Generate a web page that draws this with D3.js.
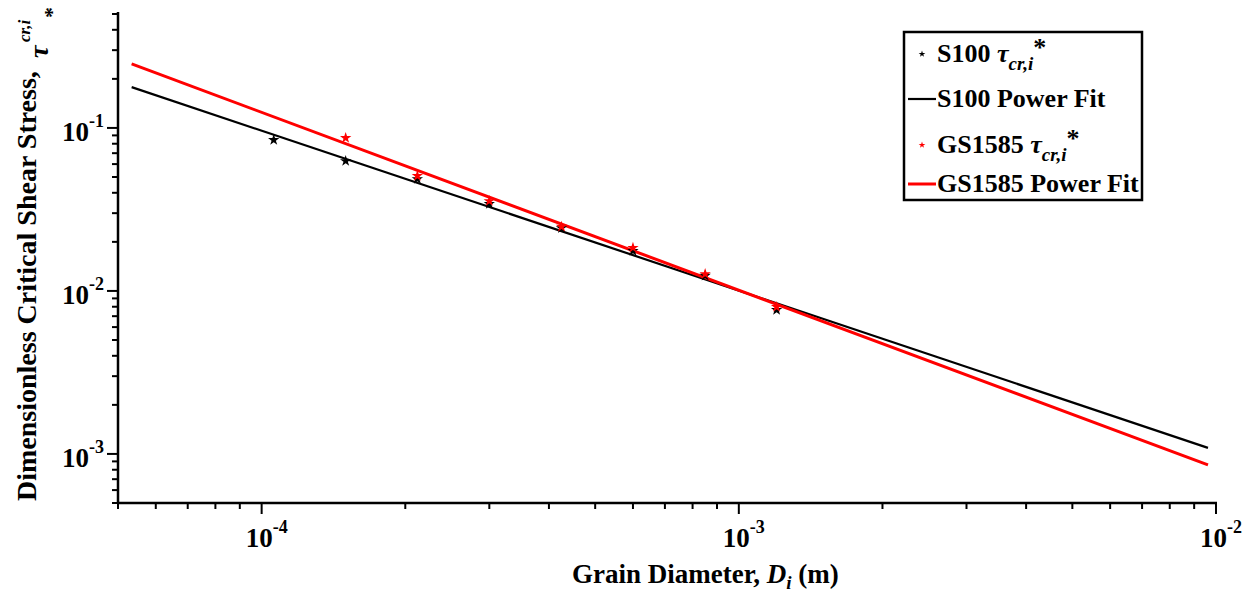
<!DOCTYPE html>
<html>
<head>
<meta charset="utf-8">
<script src="https://cdn.jsdelivr.net/npm/d3@7"></script>
<style>
  body { margin: 0; background: #fff; }
  svg { display: block; font-family: "Liberation Serif", "Times New Roman", serif; font-weight: bold; }
</style>
</head>
<body>
<div id="chart"></div>
<script>
// Grain diameters (m) of the size classes
const diameters = [1.06e-4, 1.5e-4, 2.12e-4, 3.0e-4, 4.25e-4, 6.0e-4, 8.5e-4, 1.2e-3];
// S100 measured tau*_cr,i
const s100Tau = [0.0844, 0.0627, 0.0486, 0.0342, 0.0243, 0.0176, 0.0124, 0.00765];
// GS1585 measured tau*_cr,i (no value for the finest class)
const gsDiameters = [1.5e-4, 2.12e-4, 3.0e-4, 4.25e-4, 6.0e-4, 8.5e-4, 1.2e-3];
const gsTau = [0.0868, 0.0508, 0.0356, 0.0248, 0.0184, 0.0127, 0.00798];
// Power-fit lines, drawn as end points
const fitD = [5.34e-5, 9.62e-3];
const s100Fit = [0.178, 1.09e-3];
const gsFit = [0.247, 8.56e-4];

const xTicks = [1e-4, 1e-3, 1e-2];
const yTicks = [1e-3, 1e-2, 1e-1];

const CONFIG = {
  width: 1247,
  height: 593,
  left: 118,
  right: 1216,
  top: 14,
  bottom: 503
};

const svg = d3.select('#chart').append('svg')
  .attr('width', CONFIG.width)
  .attr('height', CONFIG.height);

const x = d3.scaleLog().domain([5e-5, 1e-2]).range([CONFIG.left, CONFIG.right]);
const y = d3.scaleLog().domain([5e-4, 0.5]).range([CONFIG.bottom, CONFIG.top]);

// minor ticks at 2..9 x 10^k
function minorTicks(scale) {
  const [a, b] = scale.domain();
  const out = [];
  for (let e = Math.floor(Math.log10(a)); e <= Math.ceil(Math.log10(b)); e++) {
    for (let m = 2; m <= 9; m++) {
      const v = m * Math.pow(10, e);
      if (v >= a * 0.999 && v <= b * 1.001) out.push(v);
    }
  }
  return out;
}

// x axis
const xAxis = svg.append('g');
xAxis.append('line')
  .attr('x1', CONFIG.left - 1).attr('x2', CONFIG.right + 1)
  .attr('y1', CONFIG.bottom).attr('y2', CONFIG.bottom)
  .attr('stroke', '#000').attr('stroke-width', 2.5);
xAxis.selectAll('.minor').data(minorTicks(x)).enter().append('line')
  .attr('x1', d => x(d)).attr('x2', d => x(d))
  .attr('y1', CONFIG.bottom).attr('y2', CONFIG.bottom + 6)
  .attr('stroke', '#000').attr('stroke-width', 2);
xAxis.selectAll('.major').data(xTicks).enter().append('line')
  .attr('x1', d => x(d)).attr('x2', d => x(d))
  .attr('y1', CONFIG.bottom).attr('y2', CONFIG.bottom + 11)
  .attr('stroke', '#000').attr('stroke-width', 2);
xAxis.selectAll('.lab').data(xTicks).enter().append('text')
  .attr('x', d => x(d) - 16).attr('y', 547)
  .attr('font-size', 27)
  .each(function(d) {
    const t = d3.select(this);
    t.append('tspan').text('10');
    t.append('tspan').attr('dy', -14).attr('font-size', 18).text(Math.round(Math.log10(d)));
  });

// y axis
const yAxis = svg.append('g');
yAxis.append('line')
  .attr('x1', CONFIG.left).attr('x2', CONFIG.left)
  .attr('y1', CONFIG.top - 2).attr('y2', CONFIG.bottom + 1)
  .attr('stroke', '#000').attr('stroke-width', 2.5);
yAxis.selectAll('.minor').data(minorTicks(y)).enter().append('line')
  .attr('x1', CONFIG.left - 6).attr('x2', CONFIG.left)
  .attr('y1', d => y(d)).attr('y2', d => y(d))
  .attr('stroke', '#000').attr('stroke-width', 2);
yAxis.selectAll('.major').data(yTicks).enter().append('line')
  .attr('x1', CONFIG.left - 11).attr('x2', CONFIG.left)
  .attr('y1', d => y(d)).attr('y2', d => y(d))
  .attr('stroke', '#000').attr('stroke-width', 2);
yAxis.selectAll('.lab').data(yTicks).enter().append('text')
  .attr('x', 104).attr('y', d => y(d) + 13)
  .attr('text-anchor', 'end')
  .attr('font-size', 27)
  .each(function(d) {
    const t = d3.select(this);
    t.append('tspan').text('10');
    t.append('tspan').attr('dy', -14).attr('font-size', 18).text(Math.round(Math.log10(d)));
  });

// axis titles
const xTitle = svg.append('text')
  .attr('x', 572).attr('y', 583)
  .attr('font-size', 27);
xTitle.append('tspan').text('Grain Diameter, ');
xTitle.append('tspan').attr('font-style', 'italic').text('D');
xTitle.append('tspan').attr('font-style', 'italic').attr('font-size', 19).attr('dy', 6).text('i');
xTitle.append('tspan').attr('dy', -6).text(' (m)');

// rotated title: sub/superscripts sit the way the original shows them
// (rotated frame: x runs up the page from y = 501, y runs to the right of x = 36)
const yTitle = svg.append('g')
  .attr('transform', 'translate(36,501) rotate(-90)');
yTitle.append('text').attr('x', 0).attr('y', 0)
  .attr('font-size', 28)
  .text('Dimensionless Critical Shear Stress,');
yTitle.append('text').attr('x', 443).attr('y', 12)
  .attr('font-size', 28).attr('font-style', 'italic')
  .text('τ');
yTitle.append('text').attr('x', 459).attr('y', -6)
  .attr('font-size', 17).attr('font-style', 'italic')
  .text('cr,i');
yTitle.append('text').attr('x', 483).attr('y', 23)
  .attr('font-size', 22)
  .text('*');

// fit lines
const line = d3.line().x(d => x(d[0])).y(d => y(d[1]));
svg.append('path')
  .datum(fitD.map((d, i) => [d, s100Fit[i]]))
  .attr('d', line).attr('fill', 'none')
  .attr('stroke', '#000').attr('stroke-width', 2.2);
svg.append('path')
  .datum(fitD.map((d, i) => [d, gsFit[i]]))
  .attr('d', line).attr('fill', 'none')
  .attr('stroke', '#ff0000').attr('stroke-width', 3);

// points
const star = d3.symbol().type(d3.symbolStar).size(40);
svg.append('g').selectAll('path')
  .data(diameters.map((d, i) => [d, s100Tau[i]]))
  .enter().append('path')
  .attr('d', star)
  .attr('transform', d => `translate(${x(d[0])},${y(d[1])})`)
  .attr('fill', '#000');
svg.append('g').selectAll('path')
  .data(gsDiameters.map((d, i) => [d, gsTau[i]]))
  .enter().append('path')
  .attr('d', star)
  .attr('transform', d => `translate(${x(d[0])},${y(d[1])})`)
  .attr('fill', '#ff0000');

// legend
const legend = svg.append('g');
legend.append('rect')
  .attr('x', 904).attr('y', 32).attr('width', 238).attr('height', 168)
  .attr('fill', '#fff').attr('stroke', '#000').attr('stroke-width', 2.5);

const legendRows = [
  { type: 'point', color: '#000', name: 'S100', tau: true, y: 62 },
  { type: 'line', color: '#000', name: 'S100 Power Fit', tau: false, y: 107, w: 2.2 },
  { type: 'point', color: '#ff0000', name: 'GS1585', tau: true, y: 153 },
  { type: 'line', color: '#ff0000', name: 'GS1585 Power Fit', tau: false, y: 192, w: 3 }
];
legendRows.forEach(r => {
  if (r.type === 'point') {
    legend.append('path')
      .attr('d', d3.symbol().type(d3.symbolStar).size(14))
      .attr('transform', `translate(922,${r.y - 8})`)
      .attr('fill', r.color);
  } else {
    legend.append('line')
      .attr('x1', 908).attr('x2', 936)
      .attr('y1', r.y - 8).attr('y2', r.y - 8)
      .attr('stroke', r.color).attr('stroke-width', r.w);
  }
  const t = legend.append('text').attr('x', 937).attr('y', r.y).attr('font-size', 26);
  t.append('tspan').text(r.name + (r.tau ? ' ' : ''));
  if (r.tau) {
    t.append('tspan').attr('font-style', 'italic').text('τ');
    t.append('tspan').attr('font-style', 'italic').attr('font-size', 19).attr('dy', 8).text('cr,i');
    t.append('tspan').attr('font-size', 26).attr('dy', -14).text('*');
  }
});
</script>
</body>
</html>
